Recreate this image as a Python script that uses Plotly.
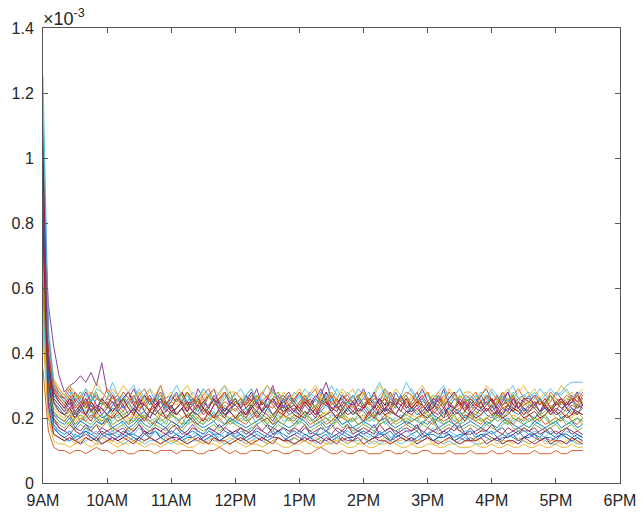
import plotly.graph_objects as go

# values in units of 1e-5 (i.e. 24 -> 0.24 x 10^-3), 5-minute samples from 9:00 to 17:25
s01 = [110,40,27, 25,23,26,24,22,25,27,24,23,21,24, 26,23,25,22,24,27,25,23,26,24,22, 23,25,28,24,22,25,23,26,24,21,23, 25,24,27,23,25,22,24,26,23,25,27, 24,22,25,23,26,24,28,25,23,24,22, 25,27,24,22,23,26,24,25,23,27,24, 22,24,26,23,25,24,21,23,26,25,23, 24,26,23,25,22,24,27,24,23,25,22, 24,23,26,24,22,25,23,24,26,23,24]
s02 = [35,16,11, 10,10,9,10,10,9,10,11,10,10,9, 10,10,9,9,10,10,10,9,10,10,10, 9,10,10,10,9,9,10,10,11,10,9, 10,9,9,10,10,10,9,10,10,9,9, 10,10,9,9,10,11,10,9,9,10,9, 9,10,10,9,9,9,10,10,9,9,10, 9,9,10,10,9,9,9,10,9,9,9, 10,9,9,9,10,9,9,10,9,9,9, 9,10,9,9,9,10,9,9,10,10,10]
s03 = [48,20,13, 12,12,11,12,13,12,11,12,12,13,12, 11,12,12,13,12,11,12,12,11,12,13, 12,12,11,11,12,13,12,12,11,12,12, 13,12,11,12,12,11,12,13,12,11,11, 12,12,13,12,11,11,12,12,13,12,11, 11,12,12,11,11,12,12,13,12,11,11, 12,11,11,12,12,11,11,12,12,11,11, 11,12,11,11,12,11,11,12,11,11,12, 11,11,12,11,11,12,11,11,12,11,11]
s04 = [90,55,42, 33,28,30,31,33,31,34,30,37,28,26, 27,24,26,29,25,27,24,26,30,25,23, 26,28,25,24,29,26,23,27,25,28,24, 26,23,27,25,29,24,26,30,25,23,27, 25,28,24,26,23,27,31,26,24,27,25, 23,26,29,25,27,24,26,23,28,25,27, 24,26,29,25,23,27,24,26,28,25,23, 26,24,27,29,25,23,26,28,24,26,25, 27,24,26,23,25,28,26,24,27,25,26]
s05 = [75,33,24, 22,21,20,22,19,21,23,20,21,19,20, 21,22,20,19,21,20,22,21,19,20,21, 20,18,21,22,20,19,21,20,22,21,19, 20,21,19,20,22,21,20,18,20,21,19, 21,20,22,20,19,21,20,19,21,22,20, 19,20,21,19,20,22,21,20,19,20,21, 20,19,21,22,20,19,20,21,19,20,22, 21,20,19,20,21,19,20,22,20,19,20, 19,20,21,20,18,19,20,21,19,20,19]
s06 = [60,22,15, 14,13,13,14,12,13,14,13,12,13,14, 13,12,13,14,13,12,13,13,14,13,12, 13,14,12,13,13,12,14,13,13,12,13, 14,13,12,13,14,13,12,13,14,13,13, 12,13,13,14,12,13,13,12,14,13,12, 13,13,14,12,13,12,13,14,13,12,13, 13,12,13,14,13,13,12,13,12,13,14, 13,12,12,13,14,13,12,13,13,12,13, 12,13,14,13,12,12,13,12,13,12,12]
s07 = [105,45,30, 27,26,24,28,25,23,26,27,24,26,25, 23,26,28,25,24,27,25,23,26,24,27, 25,28,24,26,23,25,27,24,26,28,25, 24,26,23,25,27,24,26,25,23,26,28, 25,23,26,24,27,25,28,24,26,23,25, 27,24,26,25,23,26,24,28,25,24,26, 23,25,27,24,26,25,23,26,28,24,25, 26,24,23,27,25,26,24,25,27,23,26, 25,27,24,26,23,25,26,24,25,27,24]
s08 = [85,30,18, 16,15,16,14,15,16,15,14,16,15,15, 14,16,15,15,14,16,15,16,14,15,16, 15,14,15,16,15,14,16,15,15,14,15, 16,15,14,15,16,15,14,15,16,15,14, 15,16,15,14,15,15,16,14,15,16,15, 14,15,16,15,14,15,15,16,14,15,14, 15,16,14,15,15,14,16,15,14,15,15, 16,14,15,15,16,14,15,14,15,16,14, 15,15,14,16,15,14,15,15,14,15,14]
s09 = [70,38,28, 26,24,22,25,23,26,24,21,24,25,22, 24,26,23,21,24,25,22,24,26,23,21, 23,25,24,22,26,23,21,24,25,23,22, 25,23,21,24,26,22,24,23,25,21,24, 22,24,26,23,21,24,25,22,24,26,23, 24,21,23,25,22,24,26,23,21,24,25, 23,25,22,24,21,23,25,24,22,23,26, 22,24,23,25,22,21,24,26,23,22,24, 25,23,21,24,22,25,23,22,24,23,25]
s10 = [80,42,30, 28,26,27,25,28,24,26,27,25,24,26, 27,25,23,26,28,24,26,25,27,23,25, 24,26,28,25,23,26,27,24,25,28,26, 25,23,26,24,27,25,23,26,28,25,24, 26,28,24,25,23,27,25,24,26,28,25, 23,25,27,24,26,25,28,23,25,26,24, 27,24,26,28,25,23,26,24,27,25,23, 25,27,24,26,23,25,28,26,24,25,27, 24,26,25,23,27,24,26,25,28,26,25]
s11 = [65,26,17, 15,14,15,13,14,15,14,13,15,14,13, 14,15,14,13,14,16,14,13,14,15,14, 13,14,15,14,13,14,15,14,13,14,15, 14,13,14,15,14,13,15,14,14,13,14, 15,14,13,14,15,14,13,14,15,13,14, 14,15,14,13,14,14,15,13,14,15,14, 13,14,15,14,13,14,14,15,13,14,13, 14,13,14,15,14,13,14,14,15,13,14, 15,14,13,14,13,14,15,14,13,14,13]
s12 = [78,35,26, 24,22,23,21,24,22,20,23,22,24,21, 23,21,22,24,22,20,23,22,21,24,23, 21,23,22,20,24,22,23,21,22,24,22, 23,21,22,24,21,23,22,20,23,22,24, 22,23,21,22,24,22,21,23,22,20,23, 21,22,24,23,21,22,23,21,24,22,21, 23,22,20,22,24,23,21,22,23,21,22, 24,22,21,23,22,20,22,24,22,23,21, 22,23,21,22,24,22,21,23,22,21,23]
s13 = [125,48,32, 29,27,30,26,28,27,25,29,28,26,31, 27,25,28,30,26,27,29,25,28,26,27, 30,27,25,28,26,29,27,25,28,30,26, 27,29,26,28,25,27,30,28,26,27,25, 28,26,29,27,25,28,26,30,27,25,28, 26,29,27,25,28,31,27,26,28,25,27, 29,26,28,27,25,28,30,26,27,29,26, 27,25,28,26,29,27,25,28,30,26,27, 28,26,29,27,25,28,27,29,26,28,27]
s14 = [100,36,20, 17,16,18,16,15,17,16,18,15,16,17, 16,15,17,16,18,15,16,17,16,15,17, 18,16,15,17,16,15,17,16,18,16,15, 16,17,15,16,18,16,15,17,16,17,15, 17,16,18,15,16,17,16,15,17,16,18, 15,16,17,16,15,18,16,17,15,16,17, 16,18,15,17,16,15,16,17,16,18,15, 17,15,16,16,18,16,15,17,16,15,17, 16,17,15,16,17,15,16,17,15,16,15]
s15 = [95,40,25, 23,21,22,20,23,21,24,22,20,21,23, 22,20,21,23,21,22,20,23,21,22,24, 21,23,20,22,21,23,22,20,21,23,22, 20,22,23,21,22,20,23,21,22,24,21, 22,21,20,23,21,22,24,22,20,21,23, 21,23,22,20,22,21,23,22,21,20,22, 23,21,22,24,21,20,22,23,21,22,20, 22,21,23,21,20,22,21,23,22,21,23, 21,20,22,23,21,22,20,21,23,22,21]
s16 = [88,44,31, 28,26,29,25,27,24,28,26,25,29,27, 25,28,26,24,27,29,25,26,28,24,26, 27,25,28,26,24,27,29,25,26,28,25, 28,26,24,27,25,28,26,29,25,27,24, 26,28,25,27,29,24,26,28,25,26,27, 25,27,28,24,26,25,29,27,24,26,28, 27,25,26,28,24,27,25,28,26,24,27, 26,28,25,27,26,24,28,25,27,29,26, 25,27,26,24,28,26,25,27,26,25,28]
s17 = [55,30,23, 21,20,22,19,21,20,22,21,19,20,22, 20,21,19,22,20,21,20,19,22,21,20, 22,20,21,19,20,22,21,20,19,21,20, 21,19,20,22,21,20,19,21,22,20,21, 20,22,21,19,20,21,22,20,19,21,20, 19,21,20,22,21,19,20,22,21,20,19, 21,20,22,21,19,20,21,22,20,19,21, 20,22,19,20,21,22,20,19,21,20,22, 21,19,20,21,22,20,19,21,20,22,20]
s18 = [72,40,29, 27,25,23,26,24,28,25,22,26,24,27, 23,26,28,24,22,25,27,24,26,23,25, 28,24,22,26,25,23,27,29,24,22,25, 26,23,25,28,24,22,26,25,27,23,24, 22,25,27,24,26,29,25,23,24,27,25, 24,26,23,25,28,24,22,26,24,27,23, 25,28,24,22,26,25,29,24,23,26,24, 23,25,27,24,26,22,25,28,24,23,26, 26,24,22,25,27,24,26,23,25,28,24]
s19 = [68,28,20, 18,17,19,16,18,17,16,18,17,19,16, 17,18,16,17,19,17,16,18,17,16,18, 17,16,18,19,17,16,17,18,16,17,19, 18,17,16,17,18,19,17,16,18,17,16, 17,19,18,16,17,18,16,17,19,17,18, 16,17,18,17,16,18,19,17,16,17,18, 17,16,18,17,19,16,17,18,17,16,17, 18,17,16,18,17,16,18,19,17,16,17, 16,18,17,16,17,18,16,17,18,16,17]
s20 = [58,27,21, 20,19,21,18,19,20,22,19,18,20,19, 21,18,19,20,18,21,19,20,18,19,22, 19,20,18,21,19,18,20,22,19,18,20, 18,20,19,21,18,19,20,18,21,19,20, 20,18,21,19,20,18,19,21,20,18,19, 19,21,18,20,19,22,18,19,20,21,18, 20,19,18,20,21,19,18,20,19,18,21, 19,21,20,18,19,20,21,18,19,20,18, 20,18,19,21,19,18,20,19,18,20,19]
s21 = [108,44,28, 25,23,26,22,24,21,25,23,26,24,22, 24,26,23,21,25,24,22,26,23,25,22, 23,25,22,24,26,23,21,24,25,22,24, 26,23,21,24,22,25,23,26,24,22,23, 24,22,25,23,21,24,26,23,22,25,24, 22,24,23,26,24,21,23,25,24,22,26, 23,25,24,22,23,26,24,21,23,25,22, 25,23,22,24,26,23,21,24,22,25,23, 22,24,26,23,22,24,25,23,21,24,23]
s22 = [92,30,17, 15,14,13,15,14,16,14,13,14,15,14, 13,14,15,14,13,15,14,16,14,13,14, 15,13,14,14,15,13,14,15,13,14,16, 14,15,13,14,15,14,13,14,16,14,13, 14,13,15,14,13,14,15,13,14,15,14, 13,15,14,13,14,16,14,13,15,14,13, 14,13,14,15,13,14,14,15,13,14,15, 13,14,15,14,13,14,13,15,14,13,14, 14,15,13,14,14,13,15,14,13,14,13]
s23 = [62,30,22, 20,19,21,18,20,19,21,20,18,19,21, 19,20,18,21,19,20,19,18,21,20,19, 18,20,21,19,18,20,19,21,20,18,19, 20,19,18,20,21,19,20,18,19,21,20, 19,21,20,18,19,20,18,19,21,20,19, 20,18,19,21,20,19,21,18,19,20,18, 19,20,21,19,18,20,19,20,18,19,21, 20,19,18,20,19,21,20,19,18,20,19, 21,19,20,18,19,20,19,21,19,18,20]
s24 = [66,42,32, 29,27,30,28,26,29,27,31,28,26,29, 27,30,28,26,28,25,29,27,30,26,28, 26,28,30,27,25,28,26,29,27,30,28, 28,26,27,29,26,28,30,27,25,28,26, 27,29,26,28,30,27,25,28,26,29,27, 29,26,28,25,27,30,28,26,29,27,25, 26,28,30,27,26,28,25,29,27,26,28, 28,26,27,30,28,25,27,29,26,28,30, 27,29,26,28,25,27,30,28,26,27,29]
s25 = [82,32,19, 17,16,15,17,16,18,16,15,17,16,15, 16,17,15,16,18,16,15,17,16,17,15, 17,15,16,18,16,15,17,16,15,17,16, 15,17,16,15,17,16,18,15,16,17,16, 16,15,17,16,15,17,16,18,16,15,17, 17,16,15,16,18,15,16,17,16,15,16, 16,17,16,15,16,17,15,16,18,16,15, 15,16,17,16,15,16,17,15,16,17,16, 16,15,16,17,15,16,15,17,16,15,14]
s26 = [70,38,29, 27,25,24,27,26,23,25,28,24,26,25, 23,26,25,27,24,22,26,25,27,24,26, 25,27,23,26,25,24,27,25,23,26,28, 24,26,25,23,27,25,24,26,28,25,23, 26,24,27,25,23,26,25,27,24,22,25, 25,27,24,26,25,23,27,24,26,25,27, 24,26,23,25,27,26,24,25,23,27,25, 26,24,25,27,23,25,26,24,27,25,24, 25,23,26,24,27,25,24,26,25,23,26]
s27 = [52,25,17, 16,15,16,14,15,17,15,16,14,15,16, 15,14,16,15,17,15,14,16,15,14,16, 15,16,14,15,16,15,17,15,14,16,15, 14,16,15,17,15,14,15,16,15,17,15, 16,15,14,16,15,17,16,15,14,15,16, 15,17,15,14,16,15,16,14,15,17,16, 15,14,16,15,17,15,14,16,15,14,16, 16,15,14,16,15,16,17,15,14,15,16, 15,16,15,14,16,15,14,16,15,14,15]
s28 = [98,38,25, 22,21,23,20,22,21,19,22,23,21,20, 22,20,21,23,21,19,22,21,23,20,22, 21,23,20,22,21,19,22,20,23,21,22, 20,22,21,23,20,22,21,19,22,21,23, 21,20,22,21,23,20,21,22,20,23,21, 22,21,19,22,20,23,21,22,21,20,22, 21,23,21,20,22,21,23,20,22,21,19, 22,20,21,23,21,22,20,21,23,22,20, 21,22,20,21,23,21,22,20,21,22,21]
s29 = [88,32,21, 19,18,20,17,19,18,17,19,18,20,17, 18,19,17,18,20,18,17,19,18,17,19, 18,17,19,20,18,17,18,19,17,18,20, 19,18,17,18,19,20,18,17,19,18,17, 18,20,19,17,18,19,17,18,20,18,19, 17,18,19,18,17,19,20,18,17,18,19, 18,17,19,18,20,17,18,19,18,17,18, 19,18,17,19,18,17,19,20,18,17,18, 17,19,18,17,18,19,17,18,19,17,18]
s30 = [76,40,29, 26,24,27,23,25,24,22,26,25,23,27, 24,22,25,27,23,24,26,22,25,24,23, 26,24,23,25,27,22,24,26,23,25,24, 22,25,24,26,23,25,27,24,22,25,26, 24,23,26,24,22,25,24,27,23,24,26, 25,22,24,26,25,23,24,22,26,25,23, 24,26,23,25,22,24,27,25,23,24,22, 26,24,25,22,24,27,23,24,26,23,25, 23,25,24,26,23,22,25,24,26,24,27]
s31 = [45,20,15, 14,13,14,12,13,14,13,12,14,13,13, 12,13,14,13,12,13,14,13,12,14,13, 13,12,13,14,13,12,13,14,12,13,14, 13,14,12,13,13,14,12,13,14,13,12, 14,13,13,12,14,13,12,13,13,14,12, 13,12,14,13,12,13,14,12,13,13,14, 12,13,13,14,12,13,12,14,13,12,13, 13,14,12,13,14,12,13,13,12,14,13, 12,13,14,12,13,13,12,13,14,12,13]
s32 = [86,36,26, 24,22,25,21,23,26,22,24,21,23,25, 22,24,21,23,26,22,20,23,25,22,24, 21,23,25,22,24,21,23,26,22,20,23, 24,22,20,23,25,22,24,21,23,26,22, 23,21,24,22,20,23,25,22,24,21,23, 25,22,23,21,24,26,22,23,21,24,22, 22,24,21,23,25,22,20,24,23,22,25, 21,23,25,22,24,21,23,22,26,23,21, 23,25,22,24,21,23,22,25,23,21,24]
s33 = [60,28,22, 20,19,18,20,21,19,18,20,19,21,18, 19,20,18,19,21,20,18,19,20,18,21, 20,18,19,21,19,18,20,19,21,20,18, 19,21,20,18,19,20,18,21,19,18,20, 18,19,21,20,18,19,20,18,19,21,19, 20,18,19,20,21,18,19,20,18,19,20, 19,20,18,21,19,20,18,19,21,18,19, 21,19,20,18,19,21,19,18,20,19,18, 19,20,19,21,18,19,20,18,19,20,18]
s34 = [115,45,30, 27,25,28,24,26,29,25,27,24,26,28, 25,27,24,26,29,26,24,27,25,23,26, 28,25,27,24,26,29,27,25,24,27,25, 26,24,27,29,25,26,24,28,26,25,27, 24,27,25,28,26,24,27,25,29,26,24, 27,25,26,28,24,27,29,26,25,27,31, 28,26,25,27,24,26,28,25,27,29,26, 25,27,26,24,28,26,27,25,28,26,27, 26,28,25,27,29,27,28,30,31,31,31]
s35 = [78,24,15, 14,13,14,13,12,14,13,14,12,13,14, 13,14,13,12,14,13,14,13,12,13,14, 14,13,12,13,14,13,12,14,13,13,12, 13,14,13,12,13,14,13,12,14,13,13, 12,13,14,13,13,12,14,13,12,14,13, 13,14,12,13,14,13,13,12,13,14,13, 14,12,13,14,13,12,13,14,13,12,13, 13,13,14,12,13,14,12,13,13,12,14, 13,12,13,14,12,13,13,12,14,13,12]

series = [s01, s02, s03, s04, s05, s06, s07, s08, s09, s10, s11, s12,
          s13, s14, s15, s16, s17, s18, s19, s20, s21, s22, s23, s24,
          s25, s26, s27, s28, s29, s30, s31, s32, s33, s34, s35]

start_hour = 9
step_minutes = 5
tick_hours = [9, 10, 11, 12, 13, 14, 15, 16, 17, 18]
tick_labels = ["9AM", "10AM", "11AM", "12PM", "1PM", "2PM", "3PM", "4PM", "5PM", "6PM"]
y_ticks = [0, 0.2, 0.4, 0.6, 0.8, 1.0, 1.2, 1.4]
y_tick_labels = ["0", "0.2", "0.4", "0.6", "0.8", "1", "1.2", "1.4"]

colors = ["#0072BD", "#D95319", "#EDB120", "#7E2F8E", "#77AC30", "#4DBEEE", "#A2142F"]

fig = go.Figure()
for i, vals in enumerate(series):
    x = [start_hour + k * step_minutes / 60 for k in range(len(vals))]
    y = [v / 100 for v in vals]
    fig.add_trace(go.Scatter(x=x, y=y, mode="lines",
                             line=dict(color=colors[i % 7], width=1),
                             opacity=0.9, showlegend=False, hoverinfo="skip"))

axis_col = "#555555"
font = dict(family="Liberation Sans, Arial, sans-serif", size=16, color="#262626")
fig.update_layout(
    width=642, height=514,
    margin=dict(l=43, r=22, t=28, b=31, autoexpand=False),
    plot_bgcolor="white", paper_bgcolor="white",
    font=font,
    showlegend=False,
)
fig.update_xaxes(range=[9, 18], tickvals=tick_hours, ticktext=tick_labels,
                 showline=True, linecolor=axis_col, linewidth=1, mirror="ticks",
                 ticks="inside", ticklen=5, tickcolor=axis_col, showgrid=False,
                 zeroline=False, tickfont=font, automargin=False, ticklabelstandoff=3)
fig.update_yaxes(range=[0, 1.4], tickvals=y_ticks, ticktext=y_tick_labels,
                 showline=True, linecolor=axis_col, linewidth=1, mirror="ticks",
                 ticks="inside", ticklen=5, tickcolor=axis_col, showgrid=False,
                 zeroline=False, tickfont=font, automargin=False, ticklabelstandoff=5)
fig.add_annotation(xref="paper", yref="paper", x=0, y=1, xanchor="left", yanchor="bottom",
                   text="×10<sup>-3</sup>", showarrow=False,
                   font=dict(family=font["family"], size=18, color="#262626"),
                   yshift=-3, xshift=-2)

# remove the default page margin so the 642x514 figure fills the window exactly
fig.write_html("out.html", config={"displayModeBar": False},
               post_script="document.body.style.margin='0';document.body.style.overflow='hidden';")
